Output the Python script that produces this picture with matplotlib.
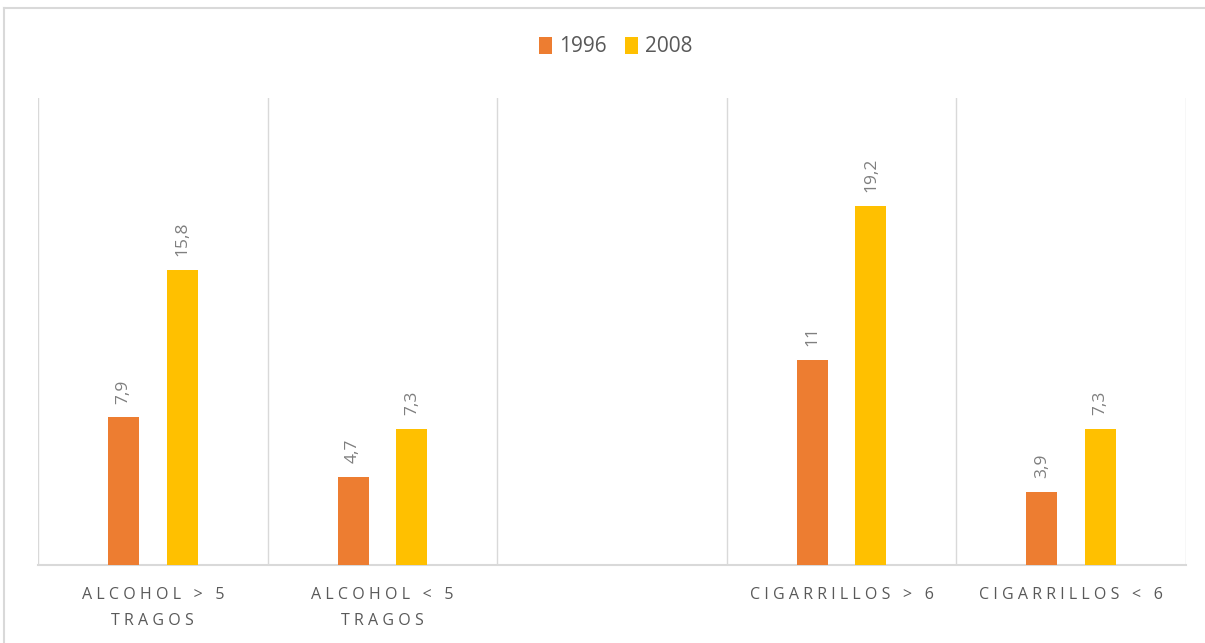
import matplotlib
matplotlib.use('Agg')
import matplotlib.pyplot as plt
import numpy as np

categories = ['ALCOHOL > 5\nTRAGOS', 'ALCOHOL < 5\nTRAGOS', '', 'CIGARRILLOS > 6', 'CIGARRILLOS < 6']
vals_1996 = [7.9, 4.7, None, 11, 3.9]
vals_2008 = [15.8, 7.3, None, 19.2, 7.3]
series = ['1996', '2008']
colors = ['#ED7D31', '#FFC000']


def tracked(s):
    # wide letter spacing for the axis labels
    return '\n'.join('\u2009\u200a'.join(line) for line in s.split('\n'))


W, H = 1205, 643
fig = plt.figure(figsize=(W / 100, H / 100), dpi=100)
plt.rcParams['font.family'] = ['Open Sans', 'DejaVu Sans']

# outer chart frame (left and top edges visible)
fig.add_artist(plt.Line2D([4 / W, 4 / W], [0, 1 - 8 / H], color='#D9D9D9', lw=1.5))
fig.add_artist(plt.Line2D([4 / W, 1], [1 - 8 / H, 1 - 8 / H], color='#D9D9D9', lw=1.5))

ax = fig.add_axes([38 / W, 1 - 565 / H, (1186 - 38) / W, (565 - 98) / H])

x = np.arange(len(categories))
width = 0.135
off = 0.128
for k, (vals, name, c) in enumerate(zip([vals_1996, vals_2008], series, colors)):
    xs = [xi + (-off if k == 0 else off) for xi, v in zip(x, vals) if v is not None]
    vs = [v for v in vals if v is not None]
    ax.bar(xs, vs, width, color=c, label=name, zorder=3)
    for xi, v in zip(xs, vs):
        txt = ('%g' % v).replace('.', ',')
        ax.annotate(txt, (xi, v), xytext=(0, 10), textcoords='offset points',
                    rotation=90, ha='center', va='bottom', fontsize=12.5, color='#7F7F7F')

ax.set_xlim(-0.5, len(categories) - 0.5)
ax.set_ylim(0, 25)
# category separators
for b in np.arange(-0.5, len(categories), 1):
    ax.axvline(b, color='#D9D9D9', lw=1, zorder=1)
ax.set_yticks([])
ax.set_xticks(x)
ax.set_xticklabels([tracked(c) for c in categories], fontsize=11.5, color='#595959', linespacing=1.8)
ax.tick_params(axis='x', length=0, pad=16)
for s in ['top', 'right', 'left']:
    ax.spines[s].set_visible(False)
ax.spines['bottom'].set_color('#D9D9D9')
ax.spines['bottom'].set_linewidth(1.5)

fig.legend(loc='center', bbox_to_anchor=(616 / W, 1 - 47 / H), ncol=2, frameon=False,
           fontsize=15, handlelength=0.6, handleheight=0.9, handletextpad=0.35,
           columnspacing=0.9, labelcolor='#595959')

fig.savefig('out.png', dpi=100)
